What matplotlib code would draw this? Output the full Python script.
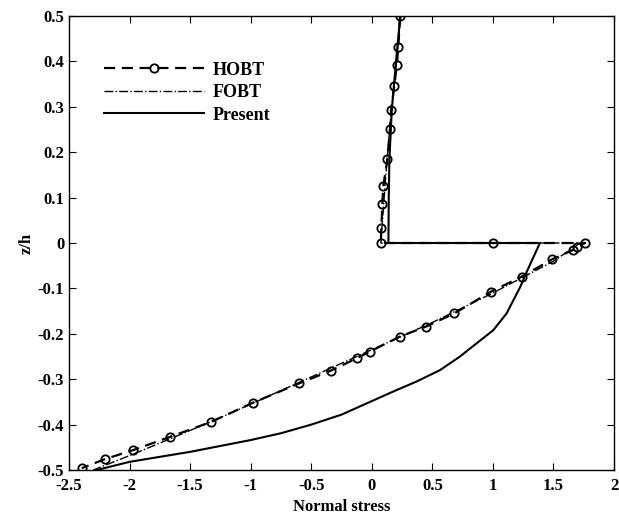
import matplotlib
matplotlib.use("Agg")
import matplotlib.pyplot as plt
import matplotlib.ticker as mticker

plt.rcParams.update({
    'font.family': 'Liberation Serif',
    'font.weight': 'bold',
    'font.size': 12,
    'axes.labelweight': 'bold',
    'axes.linewidth': 1.0,
    'xtick.direction': 'in',
    'ytick.direction': 'in',
    'xtick.top': True,
    'ytick.right': True,
    'xtick.major.size': 5,
    'ytick.major.size': 5,
    'xtick.major.pad': 6,
})

# HOBT (dashed with circles): upper layer, jump at z=0, lower layer
hobt_x = [0.233, 0.219, 0.206, 0.186, 0.159, 0.150, 0.128, 0.095, 0.087, 0.079, 0.074,
          1.0, 1.761, 1.692, 1.665, 1.488, 1.238, 0.985, 0.682, 0.448, 0.233, -0.015,
          -0.125, -0.337, -0.598, -0.983, -1.327, -1.666, -1.969, -2.203, -2.395]
hobt_z = [0.5, 0.432, 0.392, 0.346, 0.293, 0.251, 0.184, 0.126, 0.086, 0.034, 0.0,
          0.0, 0.0, -0.008, -0.015, -0.036, -0.074, -0.107, -0.155, -0.184, -0.206, -0.239,
          -0.254, -0.281, -0.309, -0.352, -0.394, -0.427, -0.456, -0.476, -0.496]

# FOBT (dash-dot)
fobt_x = [0.24, 0.20, 0.15, 0.11, 0.075, 1.72, 1.5, 1.0, 0.5, 0.0, -0.5, -1.0, -1.33, -1.97, -2.3]
fobt_z = [0.5, 0.39, 0.26, 0.13, 0.0, 0.0, -0.04, -0.11, -0.175, -0.235, -0.295, -0.355, -0.394, -0.465, -0.5]

# Present (solid)
pres_x = [0.235, 0.2, 0.165, 0.145, 0.14, 0.137, 1.388, 1.278, 1.223, 1.113, 1.003, 0.865,
          0.728, 0.563, 0.370, 0.178, -0.015, -0.25, -0.5, -0.75, -1.0, -1.5, -2.0, -2.27]
pres_z = [0.5, 0.4, 0.293, 0.183, 0.1, 0.0, 0.0, -0.064, -0.098, -0.155, -0.192, -0.221,
          -0.25, -0.28, -0.305, -0.327, -0.35, -0.378, -0.400, -0.419, -0.434, -0.46, -0.482, -0.5]

fig = plt.figure(figsize=(6.19, 5.13), dpi=100)
ax = fig.add_axes([0.1115, 0.0838, 0.8805, 0.885])

ax.plot(hobt_x, hobt_z, color='black', linestyle='--', linewidth=1.6,
        marker='o', markersize=6, markerfacecolor='none', markeredgewidth=1.3,
        dashes=(5, 3), label='HOBT')
ax.plot(fobt_x, fobt_z, color='black', linestyle='-.', linewidth=1.0, label='FOBT')
ax.plot(pres_x, pres_z, color='black', linestyle='-', linewidth=1.5, label='Present')

ax.set_xlim(-2.5, 2)
ax.set_ylim(-0.5, 0.5)
ax.xaxis.set_major_locator(mticker.MultipleLocator(0.5))
ax.yaxis.set_major_locator(mticker.MultipleLocator(0.1))
ax.xaxis.set_major_formatter(mticker.FuncFormatter(lambda v, p: f"{v:g}"))
ax.yaxis.set_major_formatter(mticker.FuncFormatter(lambda v, p: f"{round(v, 2):g}"))

ax.set_xlabel("Normal stress", labelpad=3)
ax.set_ylabel("z/h", labelpad=2)

ax.legend(loc='upper left', bbox_to_anchor=(0.035, 0.935), frameon=False,
          handlelength=5.5, numpoints=1, labelspacing=0.3,
          handletextpad=0.5, prop={'family': 'Liberation Serif', 'weight': 'bold', 'size': 13})

fig.savefig("out.png", dpi=100)
plt.close(fig)
